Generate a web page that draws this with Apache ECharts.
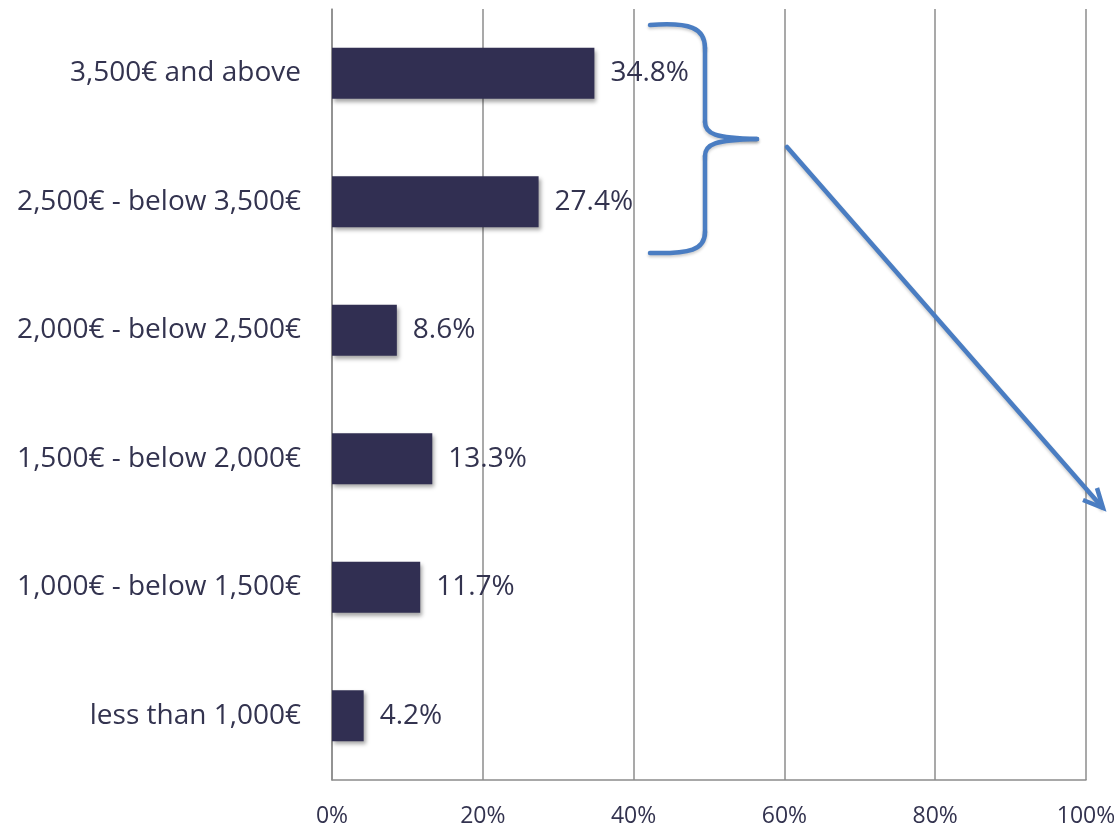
<!DOCTYPE html>
<html>
<head>
<meta charset="utf-8">
<script src="https://cdn.jsdelivr.net/npm/echarts@6/dist/echarts.min.js"></script>
<style>html,body{margin:0;padding:0;background:#fff}#c{width:1114px;height:828px}</style>
</head>
<body>
<div id="c"></div>
<script>
const categories = ["less than 1,000€", "1,000€ - below 1,500€", "1,500€ - below 2,000€", "2,000€ - below 2,500€", "2,500€ - below 3,500€", "3,500€ and above"];
const shares = [4.2, 11.7, 13.3, 8.6, 27.4, 34.8];
const xTicks = [0, 20, 40, 60, 80, 100];

const chart = echarts.init(document.getElementById('c'), null, {renderer: 'canvas'});
const textColor = '#33334f';
const blue = '#4a7dc2';
const lineStyle = {stroke: blue, lineWidth: 4.5, fill: null, lineCap: 'round', shadowBlur: 3, shadowColor: 'rgba(0,0,0,0.2)', shadowOffsetY: 2};
function bez(x1, y1, c1x, c1y, c2x, c2y, x2, y2) {
  return {type: 'bezierCurve', z: 10, shape: {x1, y1, x2, y2, cpx1: c1x, cpy1: c1y, cpx2: c2x, cpy2: c2y}, style: lineStyle};
}
function seg(x1, y1, x2, y2) {
  return {type: 'line', z: 10, shape: {x1, y1, x2, y2}, style: lineStyle};
}
chart.setOption({
  animation: false,
  backgroundColor: '#fff',
  grid: {left: 332, right: 28, top: 9, bottom: 48, containLabel: false, outerBoundsMode: 'none'},
  xAxis: {
    type: 'value', min: xTicks[0], max: xTicks[xTicks.length - 1], interval: 20,
    axisLine: {show: true, lineStyle: {color: '#8c8c8c', width: 1.5}},
    axisTick: {show: false},
    splitLine: {show: true, lineStyle: {color: '#8c8c8c', width: 1.5}},
    axisLabel: {formatter: '{value}%', color: textColor, fontFamily: 'Open Sans', fontSize: 23, margin: 25}
  },
  yAxis: {
    type: 'category', data: categories,
    axisLine: {show: true, lineStyle: {color: '#8c8c8c', width: 1.5}},
    axisTick: {show: false},
    axisLabel: {color: textColor, fontFamily: 'Open Sans', fontSize: 28, margin: 31, padding: [5, 0, 0, 0]}
  },
  series: [{
    type: 'bar', data: shares, barWidth: 51,
    itemStyle: {color: '#312f52', shadowBlur: 4, shadowColor: 'rgba(0,0,0,0.35)', shadowOffsetX: 2, shadowOffsetY: 3},
    label: {show: true, position: 'right', distance: 16, padding: [5, 0, 0, 0], formatter: p => p.value.toFixed(1) + '%', color: textColor, fontFamily: 'Open Sans', fontSize: 28}
  }],
  graphic: [
    bez(650, 25, 690, 22, 705, 28, 705, 48),
    seg(705, 48, 705, 122),
    bez(705, 122, 705, 134, 715, 138, 757, 139),
    bez(757, 139, 715, 140, 705, 144, 705, 156),
    seg(705, 156, 705, 232),
    bez(705, 232, 705, 250, 690, 254, 650, 253),
    seg(787, 147, 1102, 507),
    {type: 'polyline', z: 10, shape: {points: [[1097, 488], [1103, 508], [1083, 500]]}, style: {stroke: blue, lineWidth: 4.5, fill: null}}
  ]
});
</script>
</body>
</html>
